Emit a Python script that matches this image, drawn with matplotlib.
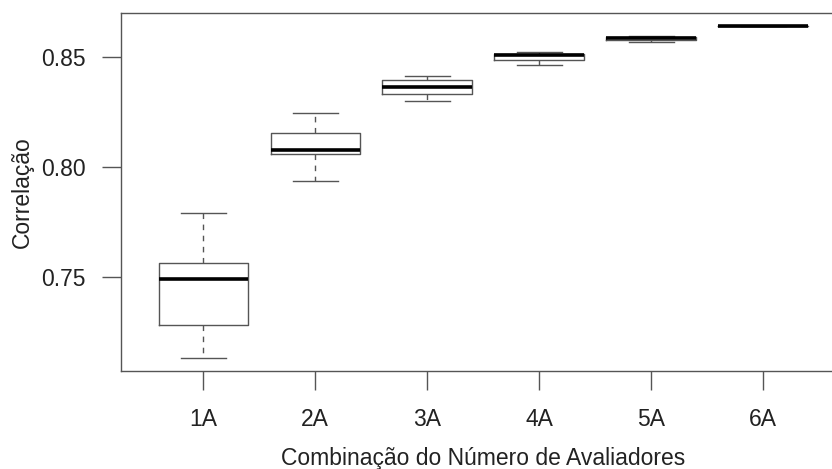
import matplotlib
matplotlib.use("Agg")
import matplotlib.pyplot as plt

categories = ["1A", "2A", "3A", "4A", "5A", "6A"]
whislo = [0.7132, 0.7935, 0.8299, 0.8463, 0.8567, 0.8638]
q1     = [0.7281, 0.8058, 0.8331, 0.8486, 0.8576, 0.8638]
med    = [0.7492, 0.8078, 0.8360, 0.8506, 0.8585, 0.8638]
q3     = [0.7561, 0.8152, 0.8395, 0.8512, 0.8591, 0.8638]
whishi = [0.7789, 0.8243, 0.8413, 0.8520, 0.8593, 0.8638]
yticks = [0.75, 0.80, 0.85]

plt.rcParams['font.family'] = ['Liberation Sans', 'DejaVu Sans']
TXT = '#222222'
LINE = '#555555'

fig = plt.figure(figsize=(8.32, 4.69), dpi=100)
ax = fig.add_axes([120.5/832, 1 - 371/469, 725.5/832, 358/469])

stats = []
for i, c in enumerate(categories):
    stats.append(dict(label=c, whislo=whislo[i], q1=q1[i], med=med[i],
                      q3=q3[i], whishi=whishi[i], fliers=[]))

pos = list(range(1, len(categories) + 1))
ax.bxp(stats, positions=pos, widths=0.8, capwidths=0.4, showfliers=False,
       boxprops=dict(color=LINE, linewidth=1.0),
       whiskerprops=dict(color=LINE, linewidth=1.0, linestyle=(0, (4, 4))),
       capprops=dict(color=LINE, linewidth=1.0),
       medianprops=dict(color='black', linewidth=2.6, solid_capstyle='butt'))

n = len(categories)
ax.set_xlim(0.5 - 0.04 * n, n + 0.5 + 0.04 * n)
lo, hi = min(whislo), max(whishi)
r = hi - lo
ax.set_ylim(lo - 0.04 * r, hi + 0.04 * r)

ax.set_xticks(pos)
ax.set_xticklabels(categories)
ax.set_yticks(yticks)
ax.set_yticklabels([f"{v:.2f}" for v in yticks])
ax.tick_params(axis='both', length=14, width=1.0, color=LINE, labelcolor=TXT,
               labelsize=16.5)
ax.tick_params(axis='x', pad=13)
ax.tick_params(axis='y', pad=11)
for s in ax.spines.values():
    s.set_color(LINE)
    s.set_linewidth(1.0)

ax.set_xlabel("Combinação do Número de Avaliadores", fontsize=16.5, color=TXT)
ax.set_ylabel("Correlação", fontsize=16.5, color=TXT)
ax.xaxis.set_label_coords((483 - 120.5) / 725.5, -(458 - 371) / 358)
ax.yaxis.set_label_coords(-(120.5 - 22) / 725.5, 0.5)
ax.xaxis.label.set_va('center')
ax.yaxis.label.set_va('center')

fig.savefig("out.png", dpi=100)
